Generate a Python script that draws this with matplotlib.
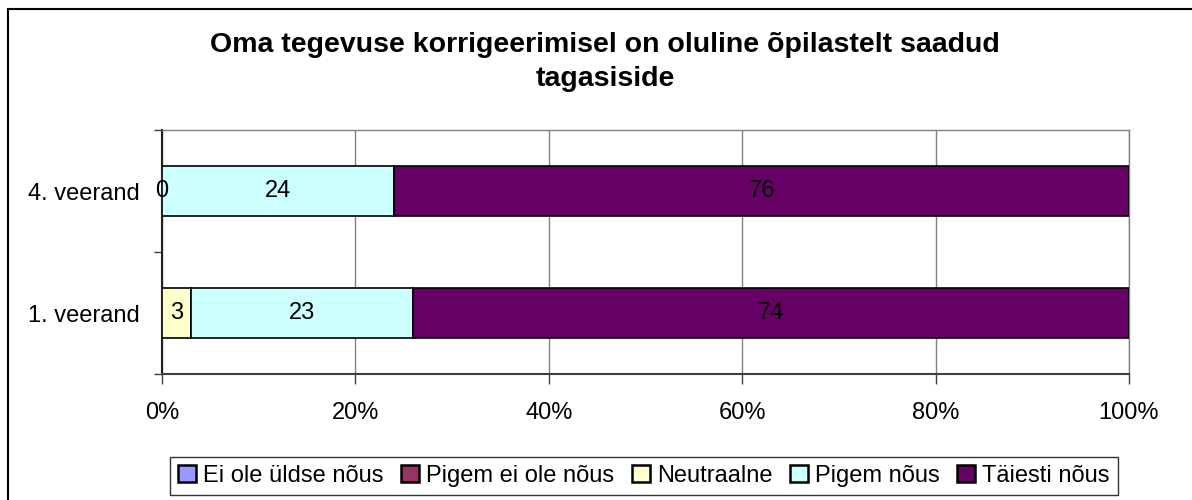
import numpy as np
import matplotlib.pyplot as plt
from matplotlib.patches import Rectangle

plt.rcParams["font.family"] = ["Liberation Sans", "DejaVu Sans"]

# ── data ─────────────────────────────────────────────────────────────────────
title = "Oma tegevuse korrigeerimisel on oluline õpilastelt saadud\ntagasiside"
categories = ["1. veerand", "4. veerand"]
series_names = ["Ei ole üldse nõus", "Pigem ei ole nõus", "Neutraalne",
                "Pigem nõus", "Täiesti nõus"]
colors = ["#9999FF", "#993366", "#FFFFCC", "#CCFFFF", "#660066"]

ei_ole_uldse = [np.nan, np.nan]
pigem_ei_ole = [np.nan, np.nan]
neutraalne = [3, 0]
pigem_nous = [23, 24]
taiesti_nous = [74, 76]
values = [ei_ole_uldse, pigem_ei_ole, neutraalne, pigem_nous, taiesti_nous]

FS = 17

# ── figure ───────────────────────────────────────────────────────────────────
fig = plt.figure(figsize=(11.92, 5.0), dpi=100)
ax = fig.add_axes([162 / 1192, 1 - 374 / 500, (1129 - 162) / 1192, (374 - 130) / 500])

y = np.arange(len(categories))
left = np.zeros(len(categories))
for name, vals, col in zip(series_names, values, colors):
    v = np.array(vals, dtype=float)
    ax.barh(y, np.nan_to_num(v), left=left, height=0.41, color=col,
            edgecolor="black", linewidth=1.2, label=name, zorder=3)
    for yi, (l, val) in enumerate(zip(left, v)):
        if not np.isnan(val):
            ax.text(l + val / 2, yi, f"{val:.0f}", ha="center", va="center",
                    fontsize=FS, color="black", zorder=4)
    left = left + np.nan_to_num(v)

ax.set_xlim(0, 100)
ax.set_ylim(-0.5, len(categories) - 0.5)
ax.set_xticks(np.arange(0, 101, 20))
ax.set_xticklabels([f"{t}%" for t in range(0, 101, 20)], fontsize=FS)
ax.set_yticks(y)
ax.set_yticklabels(categories, fontsize=FS)
ax.set_yticks(np.arange(-0.5, len(categories), 1), minor=True)
ax.tick_params(axis="y", which="major", length=0, pad=16)
ax.tick_params(axis="y", which="minor", length=6, width=1, direction="out", color="#404040")
ax.tick_params(axis="x", length=7, width=1, direction="out", color="#404040", pad=13)

ax.grid(axis="x", color="#808080", linewidth=1, zorder=0)
for side in ["top", "right"]:
    ax.spines[side].set_color("#808080")
    ax.spines[side].set_linewidth(1)
ax.spines["left"].set_color("#202020")
ax.spines["left"].set_linewidth(1.5)
ax.spines["bottom"].set_color("#404040")
ax.spines["bottom"].set_linewidth(1.5)

fig.text(605 / 1192, 1 - 62 / 500, title, ha="center", va="center",
         fontsize=20.5, fontweight="bold", linespacing=1.45)

leg = fig.legend(loc="center", bbox_to_anchor=(644 / 1192, 1 - 476 / 500), ncol=5,
                 fontsize=FS, frameon=True, fancybox=False, handlelength=0.75,
                 handleheight=0.75, handletextpad=0.3, columnspacing=0.75,
                 borderpad=0.35)
leg.get_frame().set_edgecolor("black")
leg.get_frame().set_linewidth(1)
for h in leg.legend_handles:
    h.set_linewidth(1.8)

# outer chart border (cut at right and bottom)
fig.patches.append(Rectangle((8 / 1192, -0.1), 1.2, 1 - 9 / 500 + 0.1,
                             transform=fig.transFigure, fill=False,
                             edgecolor="black", linewidth=1.5))

fig.savefig("out.png", dpi=100)
